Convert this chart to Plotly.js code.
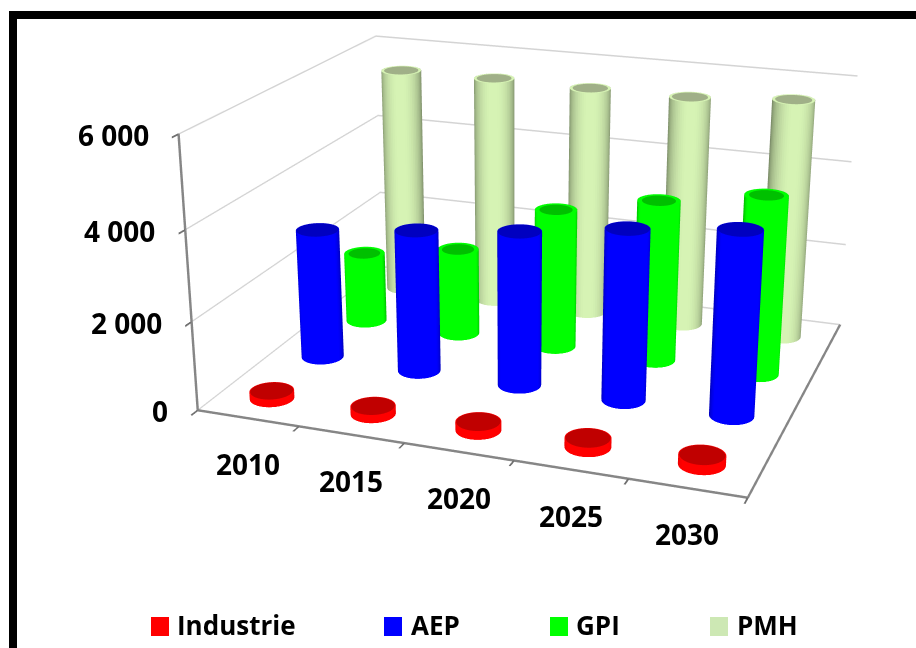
<!DOCTYPE html>
<html><head><meta charset="utf-8"><script src="https://cdn.plot.ly/plotly-3.0.1.min.js"></script>
<style>
html,body{margin:0;background:#fff}
body{position:relative;width:916px;height:648px;overflow:hidden}
#stage{position:absolute;left:0;top:-435px}
</style></head>
<body>
<div id="stage"></div>
<script>
// Water demand per sector, 2010-2030
const years = ['2010', '2015', '2020', '2025', '2030'];
const seriesNames = ['Industrie', 'AEP', 'GPI', 'PMH'];
const industrie = [170, 180, 190, 200, 210];
const aep = [3010, 3270, 3520, 3855, 4110];
const gpi = [1680, 2060, 3275, 3745, 4125];
const pmh = [5510, 5520, 5490, 5490, 5640];
const valueTicks = [0, 2000, 4000, 6000];
const valueTickLabels = ['0', '2 000', '4 000', '6 000'];

// Appearance of each series: side colour, lid colour, lip width, silhouette darkening and its spread
const looks = [
  {side: [255, 0, 0],     lid: [192, 0, 0],     rim: 0.96, edge: 0.92, spread: 1.9},
  {side: [0, 0, 255],     lid: [0, 0, 192],     rim: 0.98, edge: 0.72, spread: 1.9},
  {side: [0, 255, 0],     lid: [0, 192, 0],     rim: 0.78, edge: 0.72, spread: 2.2},
  {side: [214, 243, 180], lid: [160, 176, 136], rim: 0.86, edge: 0.55, spread: 1.02}
];
const rowOffsets = [-0.04, 0, 0, 0];
const legendColors = ['#ff0000', '#0000ff', '#00ff00', '#cde8b4'];

const STAGE_W = 1058, STAGE_H = 1492, STAGE_TOP = -435;
const paperX = px => px / STAGE_W;
const paperY = py => 1 - (py - STAGE_TOP) / STAGE_H;

const RADIUS = 0.2, SEGMENTS = 60;
const VIEW = [0.335, -0.942];   // horizontal direction towards the camera
const rgb = (c, k) => `rgb(${Math.round(c[0] * k)},${Math.round(c[1] * k)},${Math.round(c[2] * k)})`;

// One mesh per series holding a cylinder for every year
function cylinders(values, row, look) {
  const x = [], y = [], z = [], i = [], j = [], k = [], facecolor = [];
  const addVertex = (a, b, c) => { x.push(a); y.push(b); z.push(c); return x.length - 1; };
  const addFace = (a, b, c, col) => { i.push(a); j.push(b); k.push(c); facecolor.push(col); };
  values.forEach((value, n) => {
    const cx = n + 1, cy = row + 1 + rowOffsets[row];
    const hub = addVertex(cx, cy, value);
    for (let s = 0; s < SEGMENTS; s++) {
      const a0 = 2 * Math.PI * s / SEGMENTS, a1 = 2 * Math.PI * (s + 1) / SEGMENTS;
      const mid = (a0 + a1) / 2;
      const facing = Math.max(0, Math.cos(mid) * VIEW[0] + Math.sin(mid) * VIEW[1]);
      const shade = look.edge + (1 - look.edge) * Math.min(1, facing * look.spread);
      const col = rgb(look.side, shade);
      const ring = (a, r, h) => addVertex(cx + r * Math.cos(a), cy + r * Math.sin(a), h);
      const b0 = ring(a0, RADIUS, 0), b1 = ring(a1, RADIUS, 0);
      const t0 = ring(a0, RADIUS, value), t1 = ring(a1, RADIUS, value);
      addFace(b0, b1, t1, col);
      addFace(b0, t1, t0, col);
      // lid: bright lip around a darker disc
      const l0 = ring(a0, RADIUS * look.rim, value), l1 = ring(a1, RADIUS * look.rim, value);
      addFace(t0, t1, l1, rgb(look.side, 1));
      addFace(t0, l1, l0, rgb(look.side, 1));
      addFace(hub, l0, l1, rgb(look.lid, 1));
    }
  });
  return {
    type: 'mesh3d', x, y, z, i, j, k, facecolor, flatshading: true,
    lighting: {ambient: 1, diffuse: 0, specular: 0, roughness: 1, fresnel: 0},
    hoverinfo: 'skip', showlegend: false, showscale: false
  };
}

const traces = [industrie, aep, gpi, pmh].map((vals, row) => {
  const t = cylinders(vals, row, looks[row]);
  t.name = seriesNames[row];
  return t;
});

const FAMILY = '"Open Sans", "Noto Sans", sans-serif';
const TICK_FONT = {family: FAMILY, size: 28, color: '#000', weight: 700};
const LEGEND_FONT = {family: FAMILY, size: 26, color: '#000', weight: 700};
const sceneLabels = [
  ...years.map((label, n) => ({x: n + 1, y: 0.5, z: 0, text: label, showarrow: false,
    font: TICK_FONT, xanchor: 'center', yanchor: 'middle', xshift: 0, yshift: -46})),
  ...valueTicks.map((v, n) => ({x: 0.5, y: 0.5, z: v, text: valueTickLabels[n], showarrow: false,
    font: TICK_FONT, xanchor: 'right', yanchor: 'middle', xshift: -28, yshift: -1}))
];

const legendSwatchX = [151, 384, 550, 710];
const legendTextX = [175, 409, 574, 735];
const frame = {type: 'rect', xref: 'paper', yref: 'paper', fillcolor: '#000', line: {width: 0}};
const layout = {
  width: STAGE_W, height: STAGE_H,
  margin: {l: 0, r: 0, t: 0, b: 0}, showlegend: false,
  paper_bgcolor: '#fff',
  shapes: [
    {...frame, x0: paperX(9), x1: paperX(17), y0: paperY(648), y1: paperY(11)},
    {...frame, x0: paperX(9), x1: paperX(916), y0: paperY(19), y1: paperY(11)},
    ...legendColors.map((c, n) => ({type: 'rect', xref: 'paper', yref: 'paper', fillcolor: c, line: {width: 0},
      x0: paperX(legendSwatchX[n]), x1: paperX(legendSwatchX[n] + 18), y0: paperY(636), y1: paperY(617)}))
  ],
  annotations: seriesNames.map((name, n) => ({xref: 'paper', yref: 'paper', x: paperX(legendTextX[n]), y: paperY(625),
    text: name, showarrow: false, xanchor: 'left', yanchor: 'middle', font: LEGEND_FONT})),
  scene: {
    domain: {x: [0, 1], y: [0, 1]},
    bgcolor: 'rgba(0,0,0,0)',
    aspectmode: 'manual',
    aspectratio: {x: 1, y: 0.807, z: 0.508},
    camera: {
      eye: {x: 1.03614, y: -2.96592, z: 1.06774},
      center: {x: 0.1098, y: -0.3588, z: 0},
      up: {x: -0.12346, y: 0.33821, z: 0.93293}
    },
    xaxis: {title: {text: ''}, range: [0.5, 5.5], tickmode: 'array', tickvals: [0.5, 1.5, 2.5, 3.5, 4.5, 5.5],
      showticklabels: false, showgrid: false, zeroline: false, showbackground: false, showspikes: false,
      showline: true, linecolor: '#868686', linewidth: 5, ticks: 'outside', ticklen: 10, tickcolor: '#707070', tickwidth: 4},
    yaxis: {title: {text: ''}, range: [0.5, 4.5], tickmode: 'array', tickvals: [], showticklabels: false,
      showgrid: false, zeroline: false, showbackground: false, showspikes: false,
      showline: true, linecolor: '#868686', linewidth: 5, ticks: ''},
    zaxis: {title: {text: ''}, range: [0, 6000], tickmode: 'array', tickvals: valueTicks, showticklabels: false,
      showgrid: true, gridcolor: '#d4d4d4', gridwidth: 3, zeroline: false, showbackground: false, showspikes: false,
      showline: true, linecolor: '#868686', linewidth: 5, ticks: 'outside', ticklen: 12, tickcolor: '#707070', tickwidth: 4},
    annotations: sceneLabels
  }
};
Plotly.newPlot('stage', traces, layout, {displayModeBar: false, responsive: false});
</script></body></html>
